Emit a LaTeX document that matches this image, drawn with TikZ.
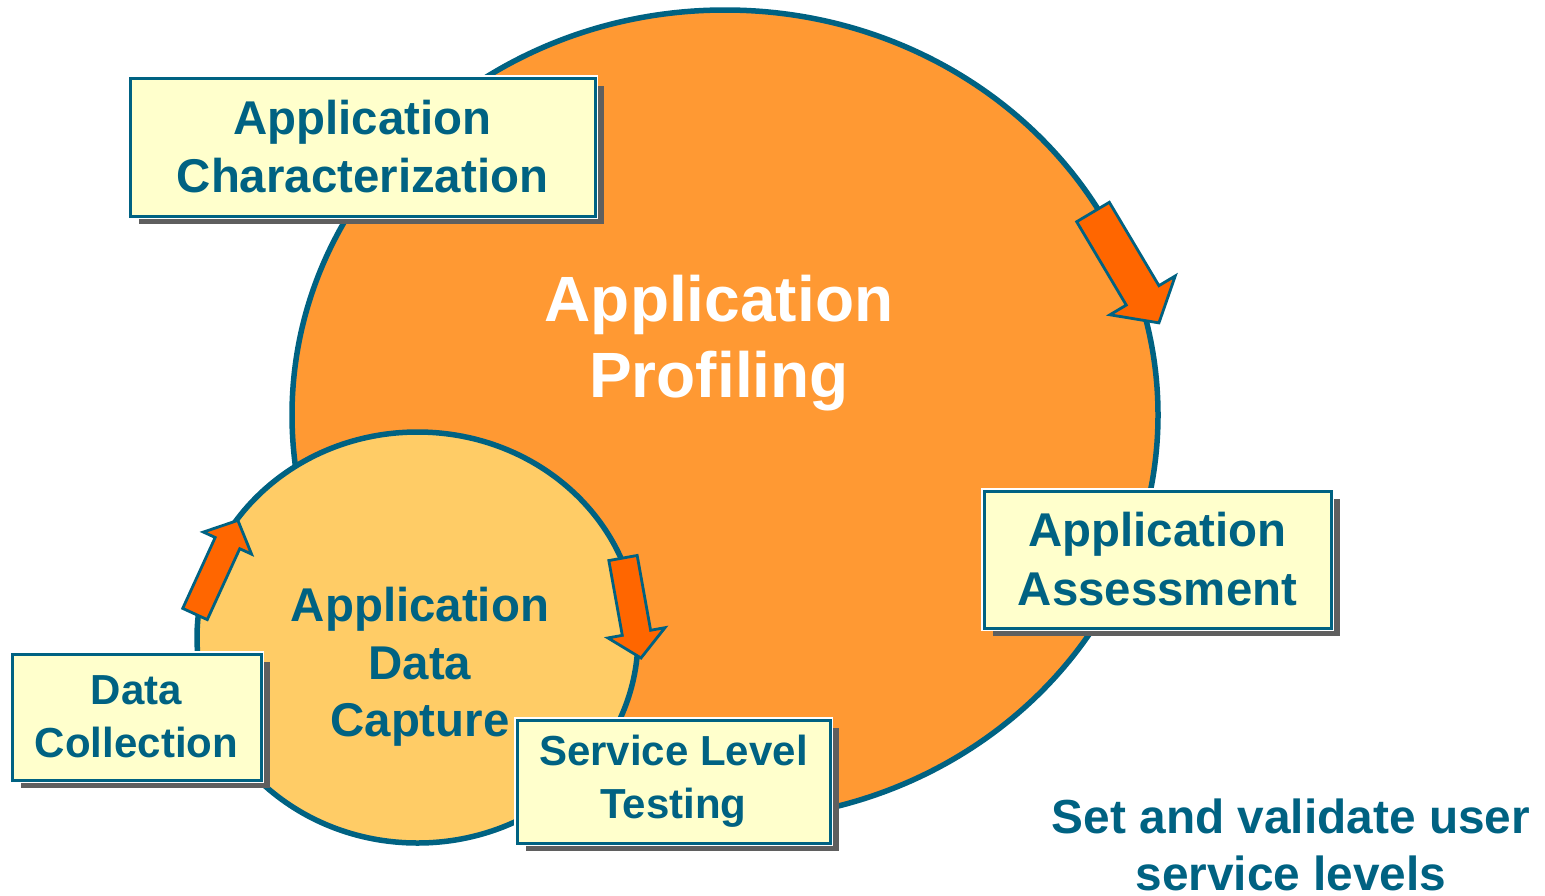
\documentclass[tikz,border=0pt]{standalone}
\usepackage{fontspec}
\setmainfont{Liberation Sans}
\usetikzlibrary{shapes.geometric,shadows}
\definecolor{teal}{RGB}{0,98,130}
\definecolor{bigorange}{RGB}{255,153,51}
\definecolor{smallorange}{RGB}{255,204,102}
\definecolor{boxyellow}{RGB}{255,255,204}
\definecolor{shadowgray}{RGB}{95,95,95}
\definecolor{arroworange}{RGB}{255,102,0}
\tikzset{
  ring/.style={ellipse, draw=teal, line width=2.75pt, inner sep=0pt},
  labelbox/.style={rectangle, fill=boxyellow, draw=teal, line width=1.5pt,
    general shadow={fill=shadowgray, shadow xshift=4.5pt, shadow yshift=-4pt},
    preaction={draw=white, line width=3pt},
    text=teal, align=center, inner sep=0pt},
  arrowsty/.style={fill=arroworange, draw=teal, line width=1.4pt, line join=miter},
}
\newcommand\blockarrow[6]{%
  \draw[arrowsty, shift={(#1)}, rotate=#2]
    (0,#4) -- ({#3-#6},#4) -- ({#3-#6},#5) -- (#3,0) -- ({#3-#6},-#5)
    -- ({#3-#6},-#4) -- (0,-#4) -- cycle;}
\begin{document}
\begin{tikzpicture}[x=0.5pt,y=-0.5pt]
\useasboundingbox (0,0) rectangle (1545,895);
% big circle
\node[ring, fill=bigorange, minimum width=433pt, minimum height=405pt] (big) at (725,415) {};
\node[font=\fontsize{32}{38}\selectfont\bfseries, text=white, align=center] (bigtxt) at (719,343.5) {Application\\Profiling};
% characterization box
\node[labelbox, minimum width=232.5pt, minimum height=69pt,
  font=\fontsize{23.7}{29}\selectfont\bfseries] (char) at (362.5,147) {Application\\Characterization};
% upper right arrow
\blockarrow{1093,212}{-59.26}{129}{19}{38}{32}
% small circle
\node[ring, fill=smallorange, minimum width=220.5pt, minimum height=205.5pt] (small) at (417.5,637.5) {};
\node[font=\fontsize{23.7}{28.75}\selectfont\bfseries, text=teal, align=center] (smalltxt) at (420,667) {Application\\Data\\Capture};
% arrows on small circle
\blockarrow{195,614}{65.4}{103}{13.5}{26.5}{25}
\blockarrow{623,558}{-79.8}{101.6}{14.4}{29}{25.6}
% boxes
\node[labelbox, minimum width=173.5pt, minimum height=68.5pt,
  font=\fontsize{23.7}{29.5}\selectfont\bfseries] (assess) at (1157.5,559.5) {Application\\Assessment};
\node[labelbox, minimum width=124.5pt, minimum height=63pt,
  font=\fontsize{21}{26.5}\selectfont\bfseries] (datacol) at (136.5,717) {Data\\Collection};
\node[labelbox, minimum width=156.5pt, minimum height=61.5pt,
  font=\fontsize{21}{26.5}\selectfont\bfseries] (slt) at (673.5,781.5) {Service Level\\Testing};
% note
\node[font=\fontsize{23.9}{28.5}\selectfont\bfseries, text=teal, align=center] (note) at (1291,844.5) {Set and validate user\\service levels};
\end{tikzpicture}
\end{document}
